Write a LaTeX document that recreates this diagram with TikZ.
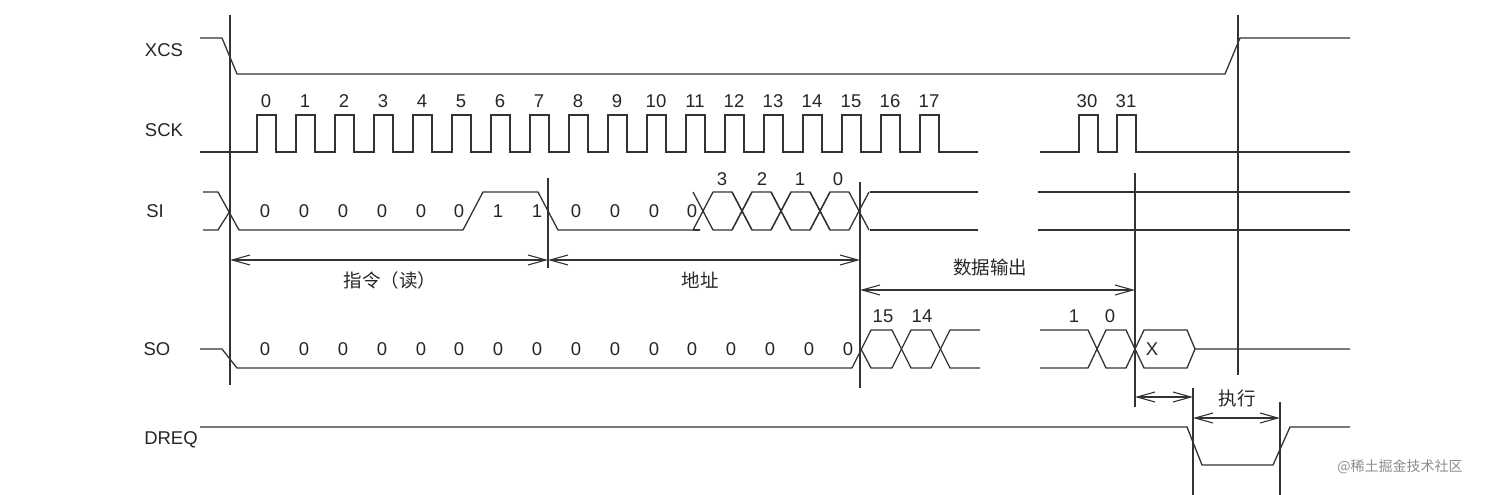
\documentclass[tikz,border=0pt]{standalone}
\usepackage{fontspec}
\setmainfont{Liberation Sans}
\newfontfamily\cjk{Noto Sans CJK SC}
\usetikzlibrary{arrows.meta}
\begin{document}
\begin{tikzpicture}[x=1pt,y=-1pt,
  sig/.style={draw=black!80,line width=1.3pt},
  vl/.style={draw=black!80,line width=1.3pt},
  dim/.style={draw=black!80,line width=1.1pt,{Straight Barb[length=18pt,width=10pt]}-{Straight Barb[length=18pt,width=10pt]}},
  lab/.style={font=\fontsize{18.5}{22}\selectfont,text=black!85,inner sep=0pt},
  cl/.style={font=\cjk\fontsize{18.5}{22}\selectfont,text=black!85,inner sep=0pt}]
\useasboundingbox (0,0) rectangle (1512,495);
% signal names
\node[lab] (nx) at (164,50) {XCS};
\node[lab] (ns) at (164,130) {SCK};
\node[lab] (ni) at (155,211) {SI};
\node[lab] (no) at (157,349) {SO};
\node[lab] (nd) at (171,440) {DREQ};
% verticals
\draw[vl] (230,15) -- (230,385);
\draw[vl] (1238,15) -- (1238,375);
\draw[vl] (548,178) -- (548,268);
\draw[vl] (860,182) -- (860,388);
\draw[vl] (1135,173) -- (1135,407);
\draw[vl] (1193,388) -- (1193,495);
\draw[vl] (1280,402) -- (1280,495);
% XCS
\draw[sig] (200,38) -- (222,38) -- (237,74) -- (1225,74) -- (1240,38) -- (1350,38);
% SCK
\draw[sig] (200,152) -- (257,152)
  \foreach \k in {0,...,17} { -- ({257+39*\k},152) -- ({257+39*\k},115) -- ({276+39*\k},115) -- ({276+39*\k},152) } -- (978,152);
\foreach \k in {0,...,17} \node[lab] at ({266+39*\k},101) {\k};
\draw[sig] (1040,152) -- (1079,152) -- (1079,115) -- (1098,115) -- (1098,152) -- (1117,152) -- (1117,115) -- (1136,115) -- (1136,152) -- (1350,152);
\node[lab] at (1087,101) {30};
\node[lab] at (1126,101) {31};
% SI
\draw[sig] (203,192) -- (218,192) -- (239,230) -- (463,230) -- (483,192) -- (538,192) -- (558,230) -- (700,230);
\draw[sig] (203,230) -- (218,230) -- (230,211);
\foreach \c in {703,742,781,820} {
  \draw[sig] (\c-10,230) -- (\c+10,192) -- (\c+29,192) -- (\c+49,230);
  \draw[sig] (\c-10,192) -- (\c+10,230) -- (\c+29,230) -- (\c+49,192);
}
\draw[sig] (693,230) -- (700,230);
\draw[sig] (870,192) -- (978,192) (870,230) -- (978,230);
\draw[sig] (1038,192) -- (1350,192) (1038,230) -- (1350,230);
\foreach \x/\v in {265/0,304/0,343/0,382/0,421/0,459/0,498/1,537/1,576/0,615/0,654/0,692/0}
  \node[lab] at (\x,211) {\v};
\foreach \x/\v in {722/3,762/2,800/1,838/0} \node[lab] at (\x,179) {\v};
% dims
\draw[dim] (230,260) -- (548,260);
\draw[dim] (548,260) -- (860,260);
\node[cl] at (390,280) {指令（读）};
\node[cl] at (700,280) {地址};
\node[cl] at (990,267) {数据输出};
\draw[dim] (860,290) -- (1135,290);
% SO
\draw[sig] (200,349) -- (222,349) -- (237,368) -- (852,368) -- (871,330) -- (892,330) -- (911,368) -- (931,368) -- (950,330) -- (980,330);
\draw[sig] (861,349) -- (871,368) -- (892,368) -- (911,330) -- (931,330) -- (950,368) -- (980,368);
\foreach \x in {265,304,343,382,421,459,498,537,576,615,654,692,731,770,809,848} \node[lab] at (\x,349) {0};
\node[lab] at (883,316) {15};
\node[lab] at (922,316) {14};
\draw[sig] (1040,330) -- (1088,330) -- (1106,368) -- (1126,368) -- (1144,330) -- (1187,330) -- (1195,349) -- (1350,349);
\draw[sig] (1040,368) -- (1088,368) -- (1106,330) -- (1126,330) -- (1144,368) -- (1187,368) -- (1195,349);
\node[lab] at (1074,316) {1};
\node[lab] at (1110,316) {0};
\node[lab] at (1152,349) {X};
% DREQ
\draw[sig] (200,427) -- (1187,427) -- (1202,465) -- (1273,465) -- (1290,427) -- (1350,427);
\draw[dim] (1135,397) -- (1193,397);
\draw[dim] (1193,418) -- (1280,418);
\node[cl] at (1237,398) {执行};
\node[cl,text=black!45,font=\cjk\fontsize{14}{16}\selectfont] at (1400,467) {@稀土掘金技术社区};
\end{tikzpicture}
\end{document}
